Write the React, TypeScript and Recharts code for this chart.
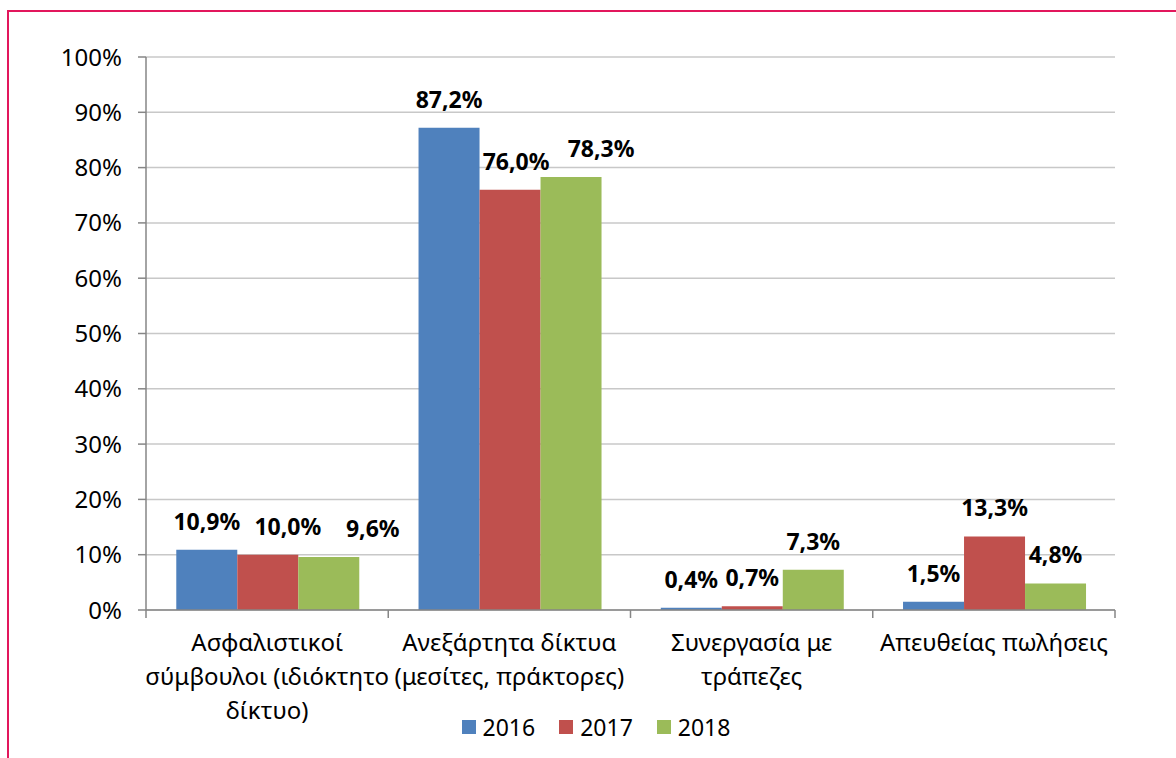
import React from "react";
import {
  BarChart,
  Bar,
  XAxis,
  YAxis,
  CartesianGrid,
  LabelList,
} from "recharts";

// category labels, already split into lines the way the original wraps them
const categoryLines: string[][] = [
  ["Ασφαλιστικοί", "σύμβουλοι (ιδιόκτητο", "δίκτυο)"],
  ["Ανεξάρτητα δίκτυα", "(μεσίτες, πράκτορες)"],
  ["Συνεργασία με", "τράπεζες"],
  ["Απευθείας πωλήσεις"],
];
const categories = ["Ασφαλιστικοί σύμβουλοι", "Ανεξάρτητα δίκτυα", "Συνεργασία με τράπεζες", "Απευθείας πωλήσεις"];

const values2016 = [10.9, 87.2, 0.4, 1.5];
const values2017 = [10.0, 76.0, 0.7, 13.3];
const values2018 = [9.6, 78.3, 7.3, 4.8];

const yTicks = [0, 10, 20, 30, 40, 50, 60, 70, 80, 90, 100];

const seriesNames = ["2016", "2017", "2018"];
const seriesKeys = ["y2016", "y2017", "y2018"];
const seriesColors = ["#4F81BD", "#C0504D", "#9BBB59"];

const data = categories.map((name, i) => ({
  name,
  y2016: values2016[i],
  y2017: values2017[i],
  y2018: values2018[i],
}));

const CHART_W = 1176;
const CHART_H = 758;
const PLOT_LEFT = 146;
const PLOT_RIGHT = 1115;
const PLOT_TOP = 57;
const PLOT_BOTTOM = 610;
const FONT = "'Noto Sans', 'DejaVu Sans', sans-serif";
const AXIS_COLOR = "#868686";

// the original nudges some labels sideways so they don't collide
// (per series, per category, in px)
const labelNudge = [
  [0, 0, 0, 0],
  [20, 6, 0, 0],
  [44, 30, 0, 0],
];

const band = (PLOT_RIGHT - PLOT_LEFT) / categories.length;

const fmtPct = (v: number) => v.toFixed(1).replace(".", ",") + "%";

const CategoryTick = (props: any) => {
  const { x, y, payload, index } = props;
  const lines = categoryLines[index] || [payload.value];
  const left = x - band / 2;
  return (
    <g>
      <line x1={left} x2={left} y1={y} y2={y + 8} stroke={AXIS_COLOR} strokeWidth={1.5} />
      {index === categories.length - 1 && (
        <line x1={x + band / 2} x2={x + band / 2} y1={y} y2={y + 8} stroke={AXIS_COLOR} strokeWidth={1.5} />
      )}
      <text textAnchor="middle" fontFamily={FONT} fontSize={24} fill="#000">
        {lines.map((l: string, i: number) => (
          <tspan key={i} x={x} y={y + 41 + i * 34}>
            {l}
          </tspan>
        ))}
      </text>
    </g>
  );
};

const makeLabel = (s: number) => (p: any) => {
  const { x, y, width, value, index } = p;
  const dx = labelNudge[s][index] || 0;
  return (
    <text
      x={Number(x) + Number(width) / 2 + dx}
      y={Number(y) - 20}
      textAnchor="middle"
      fontFamily={FONT}
      fontSize={23}
      fontWeight={700}
      fill="#000"
    >
      {fmtPct(Number(value))}
    </text>
  );
};

const Legend = () => (
  <div
    style={{
      position: "absolute",
      top: 711,
      left: 0,
      width: CHART_W,
      display: "flex",
      justifyContent: "center",
      paddingLeft: 40,
      boxSizing: "border-box",
      fontFamily: FONT,
      fontSize: 23,
      color: "#000",
    }}
  >
    {seriesNames.map((s, i) => (
      <div key={s} style={{ display: "flex", alignItems: "center", marginRight: 24 }}>
        <span
          style={{
            display: "inline-block",
            width: 14,
            height: 14,
            background: seriesColors[i],
            marginRight: 7,
          }}
        />
        <span>{s}</span>
      </div>
    ))}
  </div>
);

const App: React.FC = () => {
  return (
    <div style={{ position: "absolute", left: 0, top: 0, width: CHART_W, height: CHART_H, background: "#fff" }}>
      <div
        style={{
          position: "absolute",
          left: 7,
          top: 10,
          width: CHART_W - 7,
          height: CHART_H - 10,
          borderLeft: "2px solid #E2175C",
          borderTop: "2px solid #E2175C",
          boxSizing: "border-box",
        }}
      />
      <div style={{ position: "absolute", left: 0, top: 0 }}>
        <BarChart
          width={CHART_W}
          height={CHART_H}
          data={data}
          margin={{ top: PLOT_TOP, right: CHART_W - PLOT_RIGHT, bottom: 0, left: 0 }}
          barCategoryGap="12.5%"
          barGap={0}
        >
          <CartesianGrid vertical={false} stroke="#C8C8C8" strokeWidth={1.5} />
          <XAxis
            dataKey="name"
            height={CHART_H - PLOT_BOTTOM}
            axisLine={{ stroke: AXIS_COLOR, strokeWidth: 1.5 }}
            tickLine={false}
            tickSize={0}
            tickMargin={0}
            interval={0}
            tick={<CategoryTick />}
          />
          <YAxis
            width={PLOT_LEFT}
            domain={[0, 100]}
            ticks={yTicks}
            interval={0}
            tickFormatter={(v: number) => `${v}%`}
            axisLine={{ stroke: AXIS_COLOR, strokeWidth: 1.5 }}
            tickLine={{ stroke: AXIS_COLOR, strokeWidth: 1.5 }}
            tickSize={8}
            tickMargin={16}
            tick={{ fontFamily: FONT, fontSize: 24, fill: "#000" }}
          />
          {seriesKeys.map((k, i) => (
            <Bar key={k} dataKey={k} name={seriesNames[i]} fill={seriesColors[i]} isAnimationActive={false}>
              <LabelList dataKey={k} content={makeLabel(i)} />
            </Bar>
          ))}
        </BarChart>
      </div>
      <Legend />
    </div>
  );
};

export default App;
